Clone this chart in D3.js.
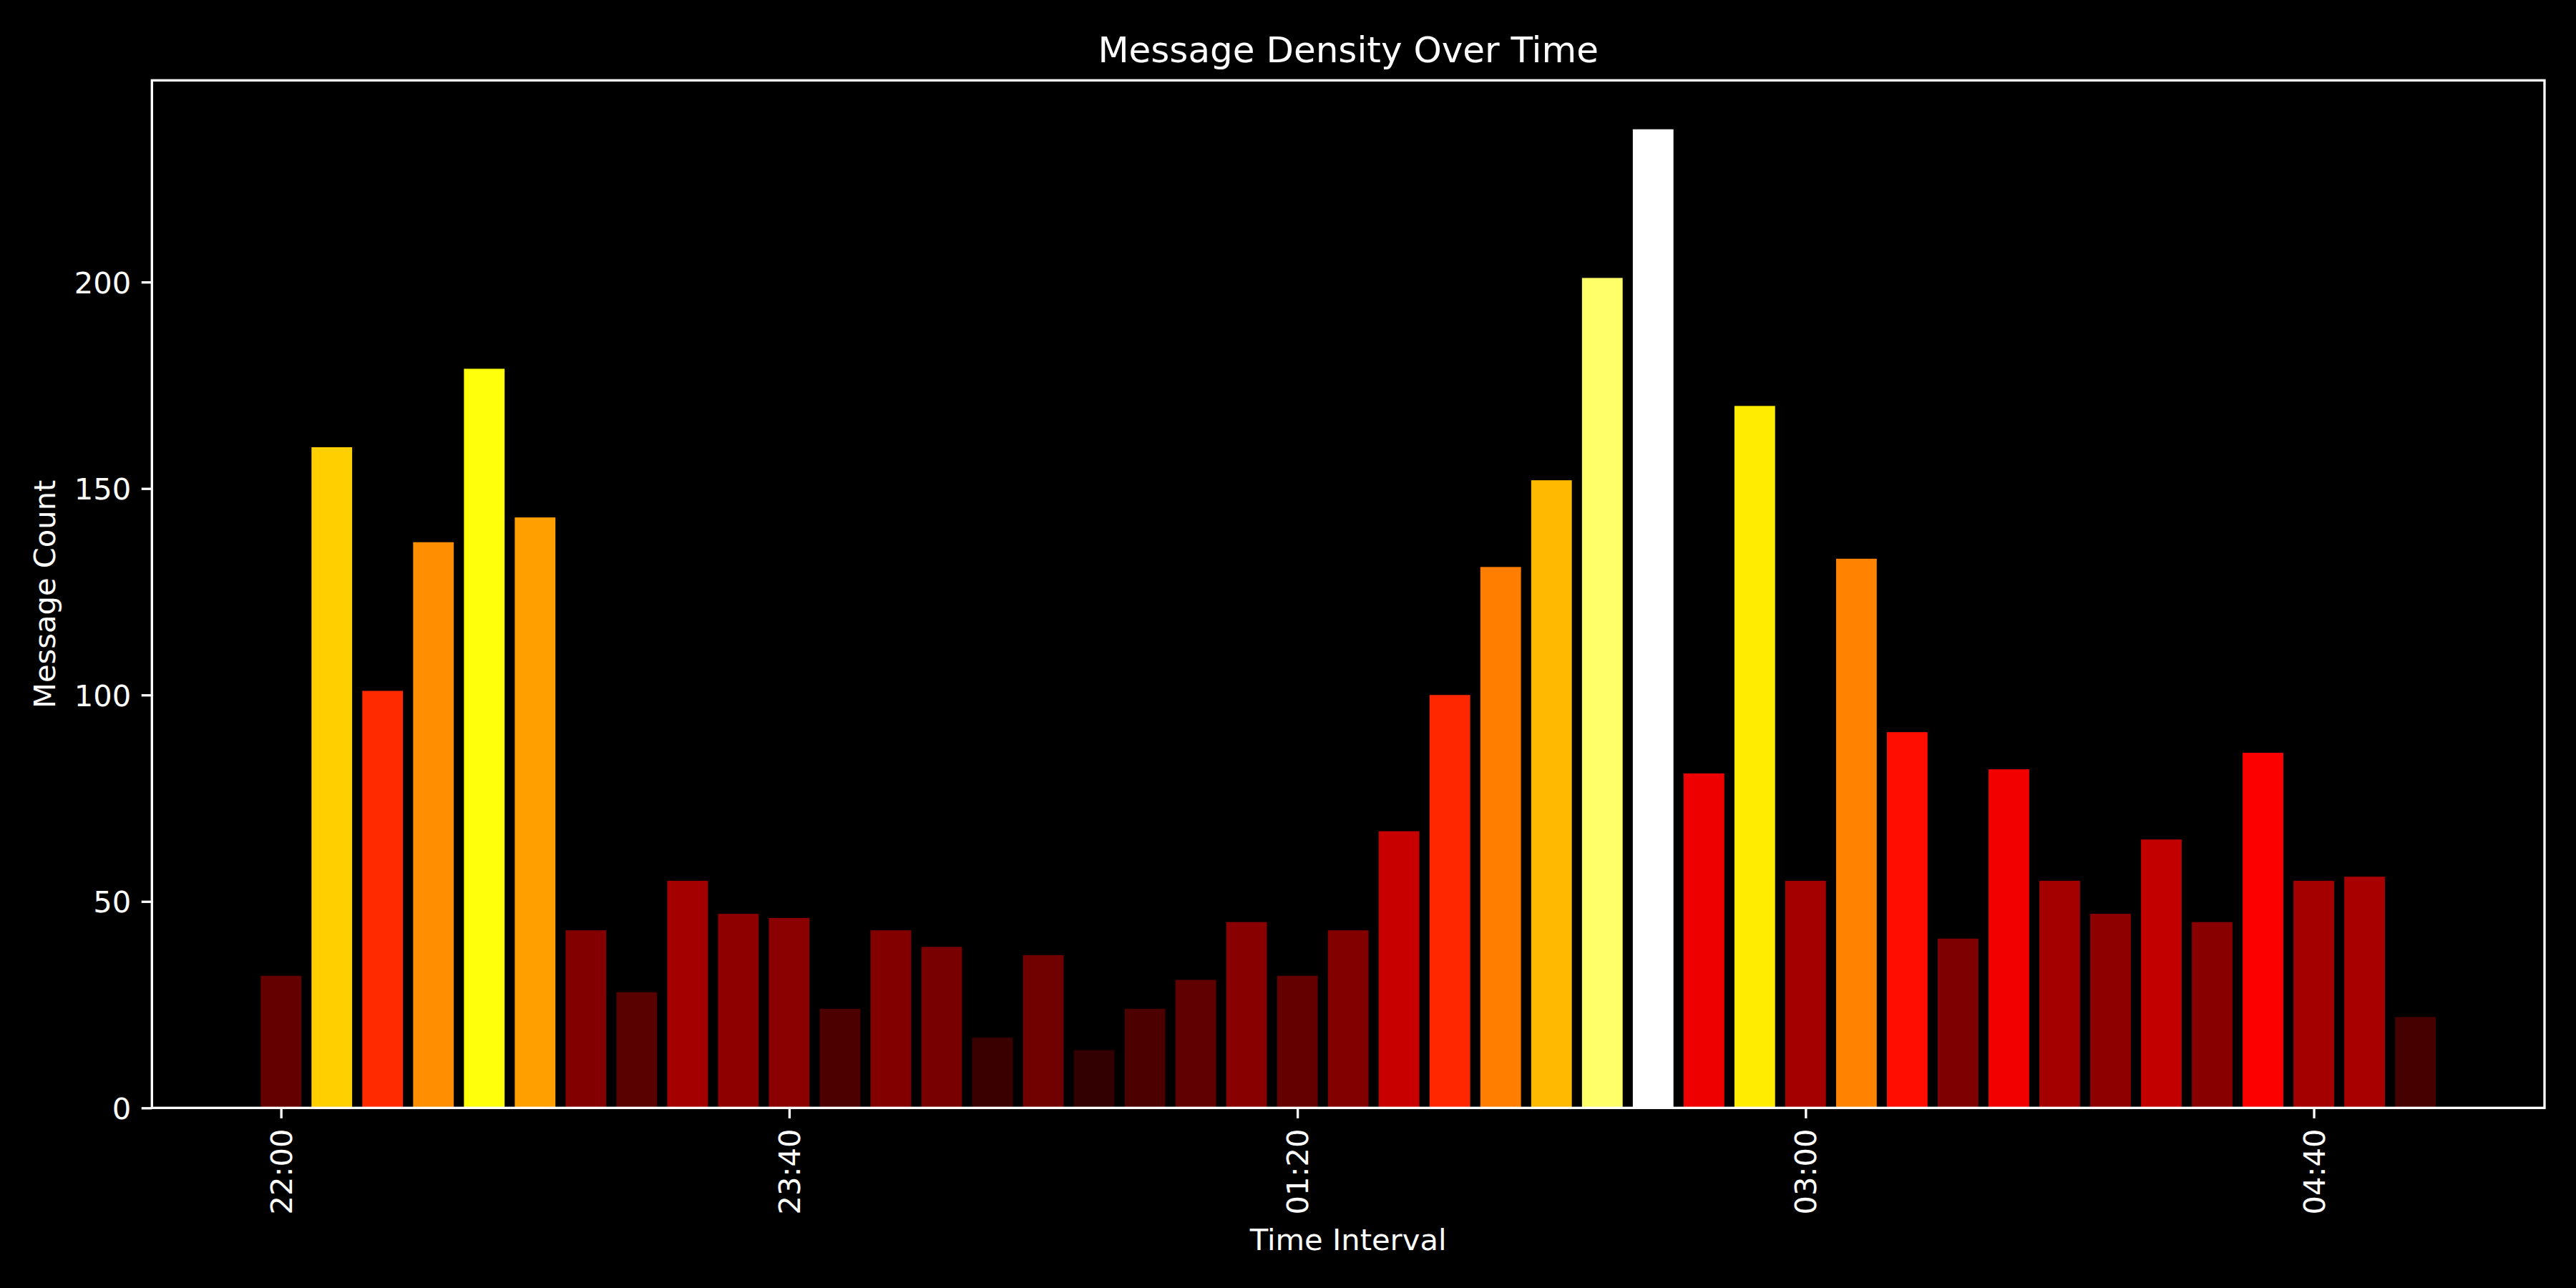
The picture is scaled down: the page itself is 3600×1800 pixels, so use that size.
<!DOCTYPE html>
<html>
<head>
<meta charset="utf-8">
<title>Message Density Over Time</title>
<script src="https://cdn.jsdelivr.net/npm/d3@7"></script>
<style>
  html, body { margin: 0; padding: 0; background: #000; }
  svg { display: block; }
  text { font-family: "DejaVu Sans", sans-serif; fill: #fff; }
</style>
</head>
<body>
<svg id="chart" width="3600" height="1800"></svg>
<script>
// 10-minute intervals across the night
const intervals = [
  "22:00","22:10","22:20","22:30","22:40","22:50",
  "23:00","23:10","23:20","23:30","23:40","23:50",
  "00:00","00:10","00:20","00:30","00:40","00:50",
  "01:00","01:10","01:20","01:30","01:40","01:50",
  "02:00","02:10","02:20","02:30","02:40","02:50",
  "03:00","03:10","03:20","03:30","03:40","03:50",
  "04:00","04:10","04:20","04:30","04:40","04:50",
  "05:00"
];

// messages counted in each interval
const messageCounts = [
  32, 160, 101, 137, 179, 143,
  43, 28, 55, 47, 46, 24,
  43, 39, 17, 37, 14, 24,
  31, 45, 32, 43, 67, 100,
  131, 152, 201, 237, 81, 170,
  55, 133, 91, 41, 82, 55,
  47, 65, 45, 86, 55, 56,
  22
];

// labelled ticks
const xTickLabels = ["22:00", "23:40", "01:20", "03:00", "04:40"];
const yTickValues = [0, 50, 100, 150, 200];

const W = 3600, H = 1800;
const plot = { left: 212.3, right: 3556, top: 112.3, bottom: 1548.3 };
const pt = 300 / 72;               // one typographic point in pixels
const fontTick = 10 * pt;
const fontTitle = 12 * pt;
const tickLen = 3.5 * pt;
const tickPad = 3.5 * pt;
const lineW = 0.8 * pt;

const svg = d3.select("#chart");
svg.append("rect").attr("width", W).attr("height", H).attr("fill", "#000");

// scales
const n = messageCounts.length;
const barW = 0.8;
const lo = -barW / 2, hi = (n - 1) + barW / 2;
const marg = (hi - lo) * 0.05;
const x = d3.scaleLinear().domain([lo - marg, hi + marg]).range([plot.left, plot.right]);
const vmax = d3.max(messageCounts);
const y = d3.scaleLinear().domain([0, vmax * 1.05]).range([plot.bottom, plot.top]);

// "hot" colormap as piecewise linear channels, sampled as a 256-entry table
const hotR = d3.scaleLinear().domain([0, 0.365079, 1]).range([0.0416, 1, 1]).clamp(true);
const hotG = d3.scaleLinear().domain([0, 0.365079, 0.746032, 1]).range([0, 0, 1, 1]).clamp(true);
const hotB = d3.scaleLinear().domain([0, 0.746032, 1]).range([0, 0, 1]).clamp(true);
function hot(t) {
  const i = Math.min(255, Math.max(0, Math.floor(t * 256)));
  const u = i / 255;
  return d3.rgb(Math.round(hotR(u) * 255), Math.round(hotG(u) * 255), Math.round(hotB(u) * 255)).formatHex();
}

// bars
svg.append("g")
  .selectAll("rect")
  .data(messageCounts)
  .join("rect")
  .attr("x", (d, i) => x(i - barW / 2))
  .attr("width", (d, i) => x(i + barW / 2) - x(i - barW / 2))
  .attr("y", d => y(d))
  .attr("height", d => y(0) - y(d))
  .attr("fill", d => hot(d / vmax));

// x axis: ticks at labelled intervals, labels rotated
const xTickIdx = xTickLabels.map(l => intervals.indexOf(l));
const xAxis = d3.axisBottom(x)
  .tickValues(xTickIdx)
  .tickFormat(i => intervals[i])
  .tickSize(tickLen)
  .tickPadding(tickPad);
const gx = svg.append("g")
  .attr("transform", `translate(0,${plot.bottom})`)
  .call(xAxis);
gx.select(".domain").remove();
gx.selectAll(".tick line").attr("stroke", "#fff").attr("stroke-width", lineW);
gx.selectAll(".tick text")
  .attr("x", 0).attr("y", 0)
  .attr("dy", "0.35em")
  .attr("text-anchor", "end")
  .attr("transform", `translate(0,${tickLen + tickPad}) rotate(-90)`)
  .style("font-size", fontTick + "px")
  .style("font-family", "DejaVu Sans")
  .attr("fill", "#fff");

// y axis
const yAxis = d3.axisLeft(y)
  .tickValues(yTickValues)
  .tickFormat(d3.format("d"))
  .tickSize(tickLen)
  .tickPadding(tickPad);
const gy = svg.append("g")
  .attr("transform", `translate(${plot.left},0)`)
  .call(yAxis);
gy.select(".domain").remove();
gy.selectAll(".tick line").attr("stroke", "#fff").attr("stroke-width", lineW);
gy.selectAll(".tick text")
  .attr("dy", "0.364em")
  .style("font-size", fontTick + "px")
  .style("font-family", "DejaVu Sans")
  .attr("fill", "#fff");

// frame
svg.append("rect")
  .attr("x", plot.left).attr("y", plot.top)
  .attr("width", plot.right - plot.left)
  .attr("height", plot.bottom - plot.top)
  .attr("fill", "none")
  .attr("stroke", "#fff")
  .attr("stroke-width", lineW);

// title and axis labels
const cx = (plot.left + plot.right) / 2;
svg.append("text")
  .attr("x", cx).attr("y", 87)
  .attr("text-anchor", "middle")
  .style("font-size", fontTitle + "px")
  .text("Message Density Over Time");

svg.append("text")
  .attr("x", cx).attr("y", 1746.5)
  .attr("text-anchor", "middle")
  .style("font-size", fontTick + "px")
  .text("Time Interval");

svg.append("text")
  .attr("transform", `translate(77,${(plot.top + plot.bottom) / 2}) rotate(-90)`)
  .attr("text-anchor", "middle")
  .style("font-size", fontTick + "px")
  .text("Message Count");
</script>
</body>
</html>
